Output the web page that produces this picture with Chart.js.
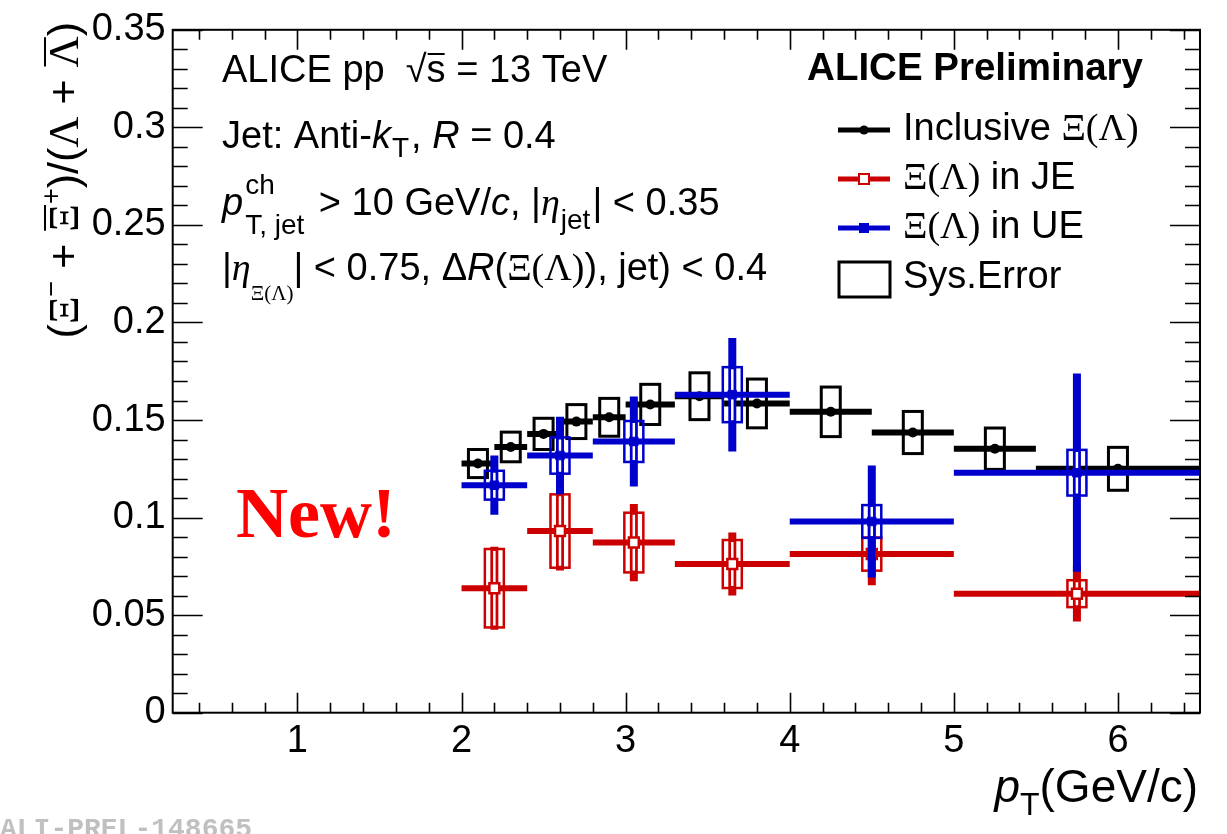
<!DOCTYPE html>
<html>
<head>
<meta charset="utf-8">
<script src="https://cdn.jsdelivr.net/npm/chart.js@4.4.1/dist/chart.umd.min.js"></script>
<style>
  html, body { margin: 0; padding: 0; background: #fff; }
  #wrap { width: 1227px; height: 834px; position: relative; }
</style>
</head>
<body>
<div id="wrap"><canvas id="c" width="1227" height="834"></canvas></div>
<script>
// ---- Inclusive Xi/Lambda ratio ----
const incLow  = [2.0, 2.2, 2.4, 2.6, 2.8, 3.0, 3.3, 3.6, 4.0, 4.5, 5.0, 5.5];
const incHigh = [2.2, 2.4, 2.6, 2.8, 3.0, 3.3, 3.6, 4.0, 4.5, 5.0, 5.5, 6.5];
const incX    = [2.1, 2.3, 2.5, 2.7, 2.9, 3.15, 3.45, 3.8, 4.25, 4.75, 5.25, 6.0];
const incY    = [0.1277, 0.1362, 0.1429, 0.1492, 0.1514, 0.1580, 0.1622, 0.1585, 0.1542, 0.1436, 0.1353, 0.1250];
const incSys  = [0.0072, 0.0076, 0.0080, 0.0087, 0.0097, 0.0103, 0.0120, 0.0125, 0.0127, 0.0108, 0.0106, 0.0110];

// ---- Jet (JE) and underlying event (UE) bins ----
const jetLow  = [2.0, 2.4, 2.8, 3.3, 4.0, 5.0];
const jetHigh = [2.4, 2.8, 3.3, 4.0, 5.0, 6.5];
const jetX    = [2.2, 2.6, 3.05, 3.65, 4.5, 5.75];
const jeY     = [0.0638, 0.0931, 0.0872, 0.0762, 0.0813, 0.0610];
const jeStat  = [0.0213, 0.0202, 0.0198, 0.0161, 0.0160, 0.0143];
const jeSys   = [0.0201, 0.0188, 0.0153, 0.0123, 0.0085, 0.0069];
const ueY     = [0.1166, 0.1318, 0.1390, 0.1630, 0.0980, 0.1230];
const ueStat  = [0.0152, 0.0199, 0.0231, 0.0291, 0.0287, 0.0508];
const ueSys   = [0.0074, 0.0093, 0.0105, 0.0141, 0.0084, 0.0117];

// ---- axis ticks ----
const xTickValues = [1, 2, 3, 4, 5, 6];
const yTickValues = [0, 0.05, 0.1, 0.15, 0.2, 0.25, 0.3, 0.35];

const BLACK = '#000000';
const RED = '#cc0000';
const BLUE = '#0000cc';
const SANS = '"Liberation Sans", Arial, Helvetica, sans-serif';
const SERIF = '"Liberation Serif", "Times New Roman", serif';
const FS = 38;

function f(size, style, family) { return (style ? style + ' ' : '') + size + 'px ' + (family || SANS); }

// Width of a run of mixed-font text segments.
function runWidth(ctx, runs) {
  let w = 0;
  for (const r of runs) {
    ctx.font = r.f;
    if (r.stack) w += Math.max(ctx.measureText(r.sup).width, ctx.measureText(r.sub).width);
    else w += ctx.measureText(r.t).width;
    w += r.dx || 0;
  }
  return w;
}
// Draws a run of mixed-font text segments; returns total advance.
function drawRuns(ctx, x, y, runs) {
  let cx = x;
  for (const r of runs) {
    ctx.font = r.f;
    if (r.stack) {
      ctx.fillText(r.sup, cx, y + r.supDy);
      ctx.fillText(r.sub, cx, y + r.subDy);
      cx += Math.max(ctx.measureText(r.sup).width, ctx.measureText(r.sub).width);
    } else {
      const w = ctx.measureText(r.t).width;
      ctx.fillText(r.t, cx, y + (r.dy || 0));
      if (r.over) {
        ctx.save();
        ctx.lineWidth = 2;
        ctx.strokeStyle = ctx.fillStyle;
        ctx.beginPath();
        ctx.moveTo(cx + 1, y + (r.dy || 0) - r.over);
        ctx.lineTo(cx + w - 1, y + (r.dy || 0) - r.over);
        ctx.stroke();
        ctx.restore();
      }
      cx += w;
    }
    cx += r.dx || 0;
  }
  return cx - x;
}

// Error bars and systematic boxes for one series.
function drawSeriesErrors(chart, idx) {
  const { ctx, chartArea: a } = chart;
  const xs = chart.scales.x, ys = chart.scales.y;
  ctx.save();
  ctx.beginPath();
  ctx.rect(a.left, a.top, a.right - a.left, a.bottom - a.top);
  ctx.clip();
  ctx.lineCap = 'butt';
  const boxHalf = 9.5;
  if (idx === 0) {
    for (let i = 0; i < incX.length; i++) {
      const py = ys.getPixelForValue(incY[i]);
      ctx.strokeStyle = BLACK;
      ctx.lineWidth = 6;
      ctx.beginPath();
      ctx.moveTo(xs.getPixelForValue(incLow[i]), py);
      ctx.lineTo(xs.getPixelForValue(incHigh[i]), py);
      ctx.stroke();
      const px = xs.getPixelForValue(incX[i]);
      const t = ys.getPixelForValue(incY[i] + incSys[i]);
      const b = ys.getPixelForValue(incY[i] - incSys[i]);
      ctx.lineWidth = 3;
      ctx.strokeRect(px - boxHalf, t, boxHalf * 2, b - t);
    }
  } else {
    const vals = idx === 1 ? jeY : ueY;
    const stat = idx === 1 ? jeStat : ueStat;
    const sys = idx === 1 ? jeSys : ueSys;
    const col = idx === 1 ? RED : BLUE;
    for (let i = 0; i < jetX.length; i++) {
      const px = xs.getPixelForValue(jetX[i]);
      const py = ys.getPixelForValue(vals[i]);
      ctx.strokeStyle = col;
      ctx.lineWidth = 6;
      ctx.beginPath();
      ctx.moveTo(xs.getPixelForValue(jetLow[i]), py);
      ctx.lineTo(xs.getPixelForValue(jetHigh[i]), py);
      ctx.stroke();
      ctx.lineWidth = 8;
      ctx.beginPath();
      ctx.moveTo(px, ys.getPixelForValue(vals[i] + stat[i]));
      ctx.lineTo(px, ys.getPixelForValue(vals[i] - stat[i]));
      ctx.stroke();
      const t = ys.getPixelForValue(vals[i] + sys[i]);
      const b = ys.getPixelForValue(vals[i] - sys[i]);
      ctx.strokeStyle = '#ffffff';
      ctx.lineWidth = 2.5;
      ctx.beginPath();
      ctx.moveTo(px, t + 2);
      ctx.lineTo(px, b - 2);
      ctx.stroke();
      ctx.strokeStyle = col;
      ctx.lineWidth = 2.5;
      ctx.strokeRect(px - boxHalf, t, boxHalf * 2, b - t);
    }
  }
  ctx.restore();
}

const errorPlugin = {
  id: 'errorBoxes',
  beforeDatasetDraw(chart, args) { drawSeriesErrors(chart, args.index); }
};

// Frame with inward ticks on all four sides, labels and legend.
const decorPlugin = {
  id: 'decor',
  afterDraw(chart) {
    const { ctx, chartArea: a } = chart;
    const xs = chart.scales.x, ys = chart.scales.y;
    ctx.save();
    ctx.strokeStyle = BLACK;
    ctx.lineWidth = 2;
    ctx.strokeRect(a.left, a.top, a.right - a.left, a.bottom - a.top);
    ctx.lineWidth = 1.6;
    ctx.beginPath();
    for (let k = 0; k <= 35; k++) {
      const v = k / 100;
      const py = Math.round(ys.getPixelForValue(v)) + 0.5;
      const len = (k % 5 === 0) ? 30 : 15;
      ctx.moveTo(a.left, py); ctx.lineTo(a.left + len, py);
      ctx.moveTo(a.right, py); ctx.lineTo(a.right - len, py);
    }
    for (let k = 2; k <= 32; k++) {
      const v = k / 5;
      const px = Math.round(xs.getPixelForValue(v)) + 0.5;
      const len = (k % 5 === 0) ? 20 : 10;
      ctx.moveTo(px, a.bottom); ctx.lineTo(px, a.bottom - len);
      ctx.moveTo(px, a.top); ctx.lineTo(px, a.top + len);
    }
    ctx.stroke();

    ctx.fillStyle = BLACK;
    ctx.textBaseline = 'alphabetic';
    ctx.textAlign = 'left';
    const F = f(FS), FI = f(FS, 'italic'), FS2 = f(28), FIS = f(FS, 'italic', SERIF);

    // Header lines
    drawRuns(ctx, 222, 82, [
      { t: 'ALICE pp  ', f: F }, { t: '√', f: F }, { t: 's', f: F, over: 28 }, { t: ' = 13 TeV', f: F }
    ]);
    drawRuns(ctx, 222, 148, [
      { t: 'Jet: Anti-', f: F }, { t: 'k', f: FI, dx: 1 }, { t: 'T', f: FS2, dy: 9, dx: 2 }, { t: ', ', f: F },
      { t: 'R', f: FI }, { t: ' = 0.4', f: F }
    ]);
    drawRuns(ctx, 222, 215, [
      { t: 'p', f: FI, dx: 2 }, { stack: true, sup: 'ch', sub: 'T, jet', f: FS2, supDy: -21, subDy: 19, dx: 4 },
      { t: ' > 10 GeV/', f: F }, { t: 'c', f: FI }, { t: ', |', f: F }, { t: 'η', f: FIS, dx: 1 },
      { t: 'jet', f: FS2, dy: 14, dx: 2 }, { t: '| < 0.35', f: F }
    ]);
    drawRuns(ctx, 222, 280, [
      { t: '|', f: F }, { t: 'η', f: FIS }, { t: 'Ξ(Λ)', f: f(21, '', SERIF), dy: 20 },
      { t: '| < 0.75, ', f: F }, { t: 'Δ', f: F }, { t: 'R', f: FI }, { t: '(', f: F },
      { t: 'Ξ(Λ)', f: f(FS, '', SERIF) }, { t: '), jet) < 0.4', f: F }
    ]);

    // Collaboration label
    ctx.font = f(38.5, 'bold');
    ctx.textAlign = 'right';
    ctx.fillText('ALICE Preliminary', 1143, 80);
    ctx.textAlign = 'left';

    // Legend
    const lx0 = 838, lx1 = 890, tx = 903;
    const rows = [
      { y: 140, col: BLACK, runs: [{ t: 'Inclusive ', f: F }, { t: 'Ξ(Λ)', f: f(FS, '', SERIF) }], mark: 'dot' },
      { y: 189, col: RED, runs: [{ t: 'Ξ(Λ)', f: f(FS, '', SERIF) }, { t: ' in JE', f: F }], mark: 'open' },
      { y: 238, col: BLUE, runs: [{ t: 'Ξ(Λ)', f: f(FS, '', SERIF) }, { t: ' in UE', f: F }], mark: 'full' }
    ];
    for (const r of rows) {
      const ly = r.y - 10;
      ctx.strokeStyle = r.col;
      ctx.lineWidth = 5;
      ctx.beginPath(); ctx.moveTo(lx0, ly); ctx.lineTo(lx1, ly); ctx.stroke();
      const cx = (lx0 + lx1) / 2;
      if (r.mark === 'dot') {
        ctx.fillStyle = r.col;
        ctx.beginPath(); ctx.arc(cx, ly, 4.5, 0, Math.PI * 2); ctx.fill();
      } else if (r.mark === 'open') {
        ctx.fillStyle = '#fff';
        ctx.fillRect(cx - 5, ly - 5, 10, 10);
        ctx.lineWidth = 2;
        ctx.strokeRect(cx - 5, ly - 5, 10, 10);
      } else {
        ctx.fillStyle = r.col;
        ctx.fillRect(cx - 5, ly - 5, 10, 10);
      }
      ctx.fillStyle = BLACK;
      drawRuns(ctx, tx, r.y, r.runs);
    }
    ctx.strokeStyle = BLACK;
    ctx.lineWidth = 3;
    ctx.strokeRect(839, 262, 51, 35);
    drawRuns(ctx, tx, 288, [{ t: 'Sys.Error', f: F }]);

    // "New!" marker text
    ctx.fillStyle = '#ff0000';
    ctx.font = f(72, 'bold', SERIF);
    ctx.fillText('New!', 236, 537);

    // x-axis title, right aligned to the frame end
    ctx.fillStyle = BLACK;
    const xt = [{ t: 'p', f: f(46, 'italic') }, { t: 'T', f: f(32), dy: 13 }, { t: '(GeV/c)', f: f(46) }];
    drawRuns(ctx, 1198 - runWidth(ctx, xt), 802, xt);

    // y-axis title, rotated, ending at the top of the frame
    const YF = 43;
    const yt = [
      { t: '(', f: f(YF) }, { t: 'Ξ', f: f(YF, '', SERIF) }, { t: '−', f: f(27), dy: -18 },
      { t: ' + ', f: f(YF) }, { t: 'Ξ', f: f(YF, '', SERIF), over: 33 }, { t: '+', f: f(27), dy: -18 },
      { t: ')/(', f: f(YF) }, { t: 'Λ', f: f(YF, '', SERIF) }, { t: ' + ', f: f(YF) },
      { t: 'Λ', f: f(YF, '', SERIF), over: 33 }, { t: ')', f: f(YF) }
    ];
    const yw = runWidth(ctx, yt);
    ctx.translate(78, 22 + yw);
    ctx.rotate(-Math.PI / 2);
    drawRuns(ctx, 0, 0, yt);
    ctx.setTransform(1, 0, 0, 1, 0, 0);

    // figure id
    ctx.fillStyle = '#c0c0c0';
    ctx.font = f(28, 'bold', '"Liberation Mono", "DejaVu Sans Mono", monospace');
    ctx.fillText('ALI-PREL-148665', 0, 837);
    ctx.restore();
  }
};

const tickFont = { family: SANS, size: 38 };

new Chart(document.getElementById('c'), {
  type: 'scatter',
  data: {
    datasets: [
      {
        label: 'Inclusive',
        data: incX.map((x, i) => ({ x, y: incY[i] })),
        pointStyle: 'circle', pointRadius: 5, backgroundColor: BLACK, borderColor: BLACK, borderWidth: 0,
        order: 2
      },
      {
        label: 'JE',
        data: jetX.map((x, i) => ({ x, y: jeY[i] })),
        pointStyle: 'rect', pointRadius: 7, backgroundColor: '#ffffff', borderColor: RED, borderWidth: 2.5,
        order: 1
      },
      {
        label: 'UE',
        data: jetX.map((x, i) => ({ x, y: ueY[i] })),
        pointStyle: 'rect', pointRadius: 6, backgroundColor: BLUE, borderColor: BLUE, borderWidth: 1,
        order: 0
      }
    ]
  },
  options: {
    responsive: false,
    devicePixelRatio: 1,
    animation: false,
    events: [],
    layout: { padding: { left: 0, right: 27, top: 22, bottom: 0 } },
    plugins: { legend: { display: false }, tooltip: { enabled: false } },
    scales: {
      x: {
        type: 'linear', min: 0.24, max: 6.5,
        afterBuildTicks: s => { s.ticks = xTickValues.map(v => ({ value: v })); },
        afterFit: s => { s.height = 121.3; },
        grid: { display: false, drawTicks: false }, border: { display: false },
        ticks: { font: tickFont, color: BLACK, padding: 6, maxRotation: 0, autoSkip: false, callback: v => String(v) }
      },
      y: {
        type: 'linear', min: 0, max: 0.35,
        afterBuildTicks: s => { s.ticks = yTickValues.map(v => ({ value: v })); },
        afterFit: s => { s.width = 172.7; },
        grid: { display: false, drawTicks: false }, border: { display: false },
        ticks: { font: tickFont, color: BLACK, padding: 7, autoSkip: false, callback: v => String(+v.toFixed(2)) }
      }
    }
  },
  plugins: [errorPlugin, decorPlugin]
});
</script>
</body>
</html>
